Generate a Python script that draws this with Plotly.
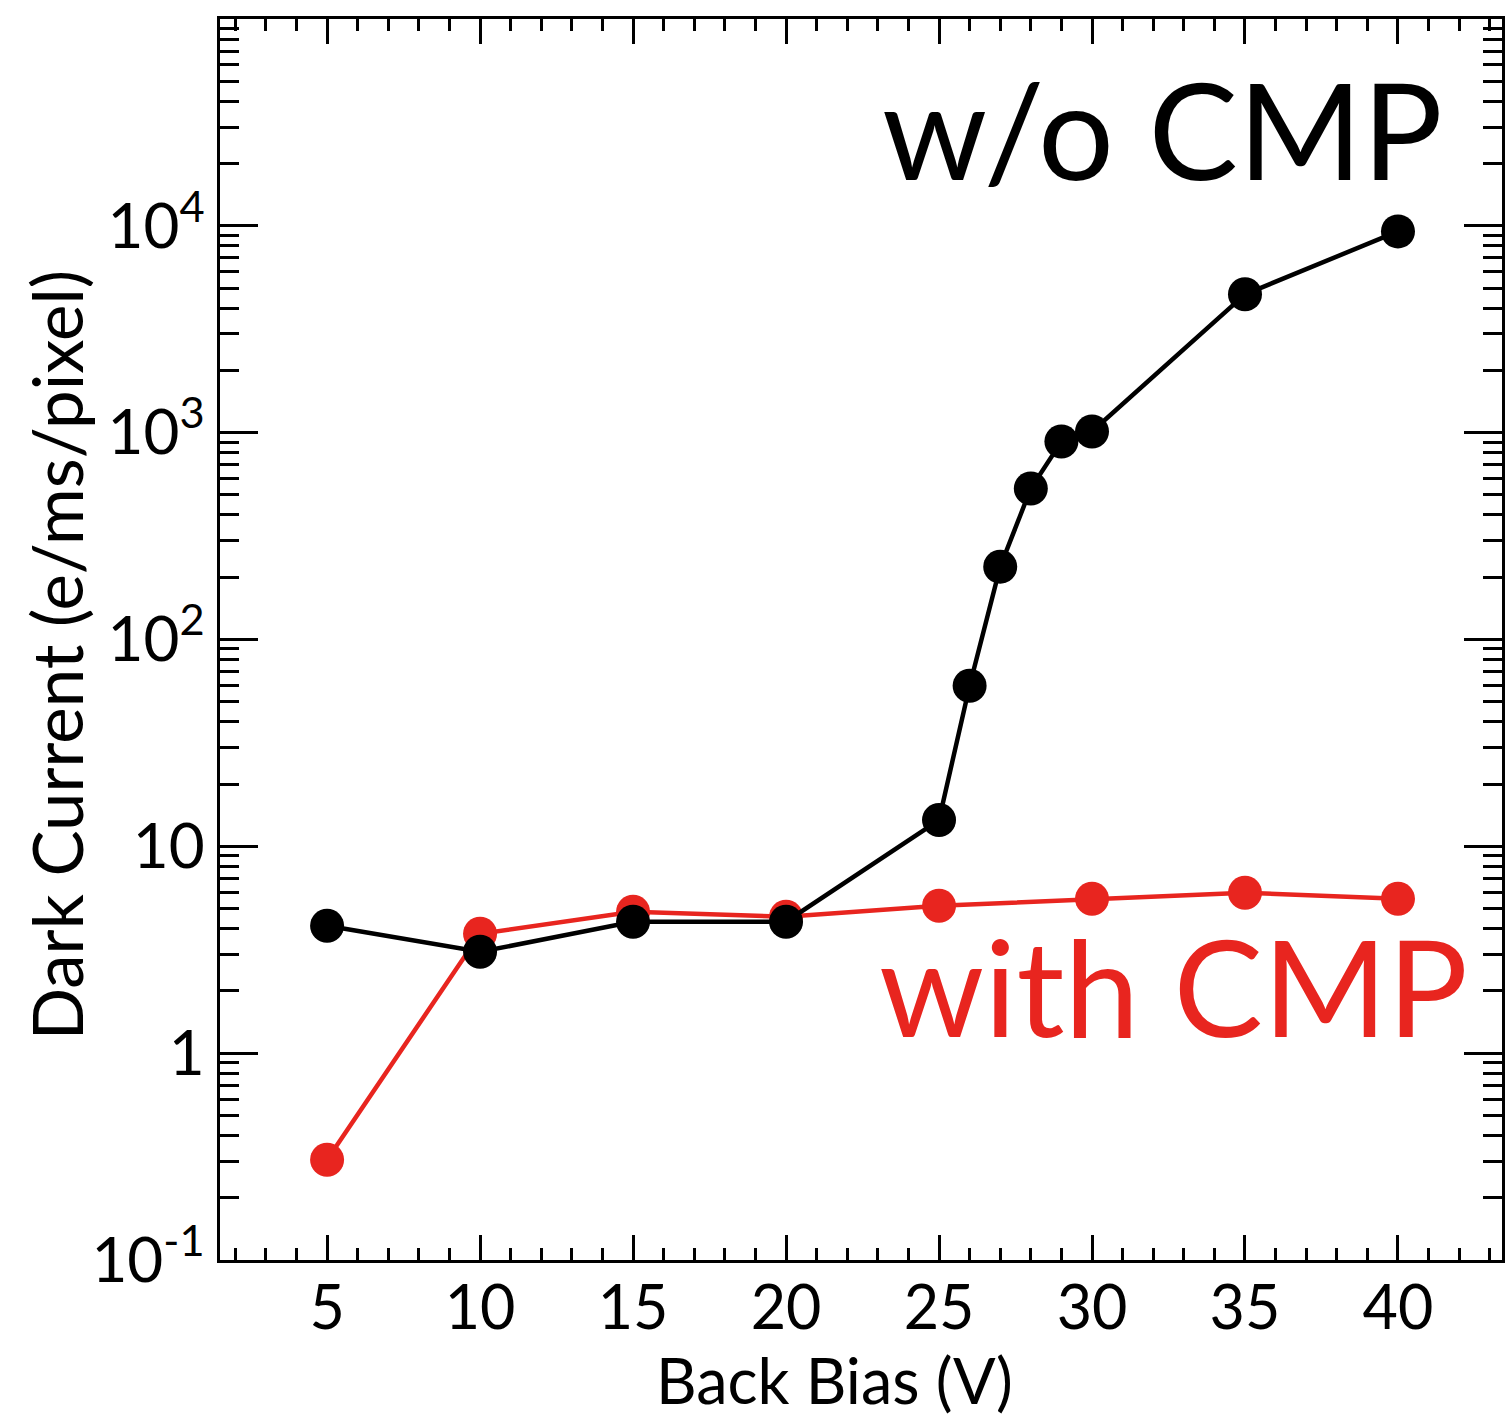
import plotly.graph_objects as go

bias_wo = [5, 10, 15, 20, 25, 26, 27, 28, 29, 30, 35, 40]
dark_wo = [4.13, 3.09, 4.32, 4.32, 13.4, 59.8, 225, 537, 906, 1013, 4665, 9400]

bias_with = [5, 10, 15, 20, 25, 30, 35, 40]
dark_with = [0.305, 3.78, 4.83, 4.57, 5.16, 5.58, 5.97, 5.58]

x_ticks = [5, 10, 15, 20, 25, 30, 35, 40]
y_ticks = [0.1, 1, 10, 100, 1000, 10000]
y_ticktext = ["10<sup>-1</sup>", "1", "10", "10<sup>2</sup>", "10<sup>3</sup>", "10<sup>4</sup>"]
y_minor = [m * 10.0 ** e for e in range(-1, 5) for m in range(2, 10)]

RED = "#E8251F"
FONT = "Lato"

fig = go.Figure()
fig.add_trace(go.Scatter(x=bias_with, y=dark_with, mode="lines+markers",
                         line=dict(color=RED, width=4.5),
                         marker=dict(color=RED, size=34), showlegend=False))
fig.add_trace(go.Scatter(x=bias_wo, y=dark_wo, mode="lines+markers",
                         line=dict(color="black", width=4.5),
                         marker=dict(color="black", size=34), showlegend=False))

fig.update_layout(
    width=1507, height=1418,
    margin=dict(l=220, r=2, t=19, b=158),
    plot_bgcolor="white", paper_bgcolor="white",
    font=dict(family=FONT, color="black", size=62),
    xaxis=dict(range=[1.5, 43.4], tickmode="array", tickvals=x_ticks,
               ticks="inside", ticklen=25, tickwidth=3, tickcolor="black",
               showline=True, linewidth=3, linecolor="black", mirror="ticks",
               showgrid=False, zeroline=False, ticklabelstandoff=-7,
               tickfont=dict(size=61),
               minor=dict(ticks="inside", ticklen=12, tickwidth=3, tickcolor="black",
                          dtick=1, tick0=0, showgrid=False)),
    yaxis=dict(type="log", range=[-1, 5], tickmode="array", tickvals=y_ticks,
               ticktext=y_ticktext,
               ticks="inside", ticklen=38, tickwidth=3, tickcolor="black",
               showline=True, linewidth=3, linecolor="black", mirror="ticks",
               showgrid=False, zeroline=False,
               tickfont=dict(size=62),
               minor=dict(ticks="inside", ticklen=19, tickwidth=3, tickcolor="black",
                          tickmode="array", tickvals=y_minor, showgrid=False)),
    annotations=[
        dict(text="Back Bias (V)", x=0.479, y=-0.096, xref="paper", yref="paper",
             xanchor="center", yanchor="middle", showarrow=False,
             font=dict(size=63, color="black", family=FONT)),
        dict(text="Dark Current (e/ms/pixel)", x=-0.128, y=0.488, xref="paper", yref="paper",
             xanchor="center", yanchor="middle", showarrow=False, textangle=-90,
             font=dict(size=69, color="black", family=FONT)),
        dict(text="w/o CMP", x=0.735, y=0.912, xref="paper", yref="paper",
             xanchor="center", yanchor="middle", showarrow=False,
             font=dict(size=134, color="black", family=FONT)),
        dict(text="with CMP", x=0.744, y=0.221, xref="paper", yref="paper",
             xanchor="center", yanchor="middle", showarrow=False,
             font=dict(size=134, color=RED, family=FONT)),
    ],
)

fig.write_html("out.html")
